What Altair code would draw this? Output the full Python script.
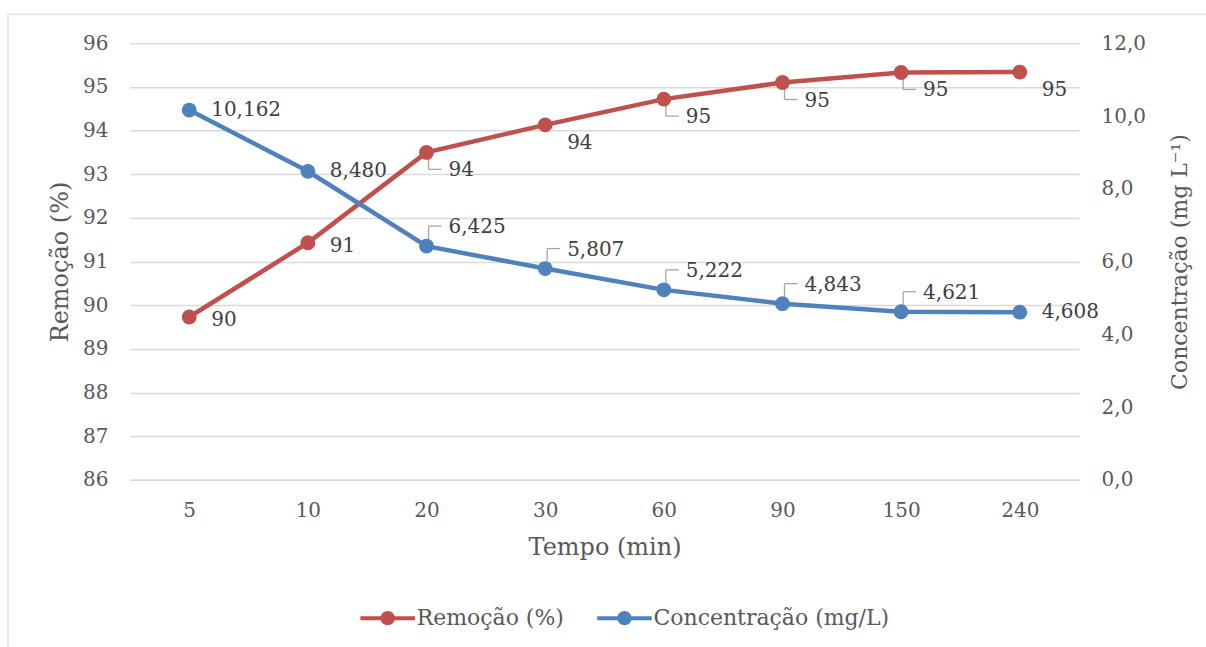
import altair as alt
import pandas as pd

# Sampling times (min) and measured series
tempo = ["5", "10", "20", "30", "60", "90", "150", "240"]
remocao = [89.73, 91.43, 93.50, 94.13, 94.72, 95.10, 95.33, 95.34]
concentracao = [10.162, 8.480, 6.425, 5.807, 5.222, 4.843, 4.621, 4.608]

SERIE_REM = "Remoção (%)"
SERIE_CONC = "Concentração (mg/L)"

RED = "#c0504d"
BLUE = "#4f81bd"
FONT = "DejaVu Serif"
TXT = "#595959"
LBL = "#404040"
GRID = "#d9d9d9"
LEADER = "#a6a6a6"
FS = 20

df = pd.DataFrame({"tempo": tempo, "remocao": remocao, "conc": concentracao})
base = alt.Chart(df).transform_calculate(
    lbl_rem="format(datum.remocao, '.0f')",
    lbl_conc="replace(format(datum.conc, '.3f'), '.', ',')",
)

x = alt.X(
    "tempo:N",
    sort=tempo,
    scale=alt.Scale(type="point", padding=0.5),
    axis=alt.Axis(
        title="Tempo (min)", labelAngle=0, ticks=False, domain=True,
        domainColor=GRID, domainWidth=1.5, labelPadding=21, titlePadding=15,
    ),
)

y_rem = alt.Y(
    "remocao:Q",
    scale=alt.Scale(domain=[86, 96], nice=False, zero=False),
    axis=alt.Axis(
        title="Remoção (%)", values=list(range(86, 97)), grid=True,
        gridColor=GRID, gridWidth=1.5, ticks=False, domain=False,
        labelPadding=22, titlePadding=10, format="d",
    ),
)

y_conc = alt.Y(
    "conc:Q",
    scale=alt.Scale(domain=[0, 12], nice=False),
    axis=alt.Axis(
        title="Concentração (mg L⁻¹)", orient="right",
        values=[0, 2, 4, 6, 8, 10, 12], grid=False, ticks=False, domain=False,
        labelPadding=22, titlePadding=24, titleAngle=270, titleBaseline="top",
        titleFontSize=22,
        labelExpr="replace(format(datum.value, '.1f'), '.', ',')",
    ),
)

# legend glyph: short line with a filled dot (concentric strokes fill the dot)
legend_symbol = (
    "M-3.9,0 L3.9,0 "
    "M0.75,0 A0.75,0.75 0 1,1 -0.75,0 A0.75,0.75 0 1,1 0.75,0 "
    "M0.25,0 A0.25,0.25 0 1,1 -0.25,0 A0.25,0.25 0 1,1 0.25,0"
)
color_scale = alt.Scale(domain=[SERIE_REM, SERIE_CONC], range=[RED, BLUE])
legend = alt.Legend(
    title=None, orient="none", direction="horizontal",
    legendX=247, legendY=564,
    symbolType=legend_symbol, symbolSize=196, symbolStrokeWidth=4,
    labelOffset=18, columnPadding=24, labelLimit=400,
    labelFont=FONT, labelFontSize=22, labelColor=TXT,
)


def subset(chart, keys):
    return chart.transform_filter(alt.FieldOneOfPredicate(field="tempo", oneOf=keys))


# ---- Remoção (left axis) ----
rem_line = base.transform_calculate(serie=f"'{SERIE_REM}'").mark_line(
    strokeWidth=4.5
).encode(
    x=x, y=y_rem,
    color=alt.Color("serie:N", scale=color_scale, legend=legend),
)
rem_pts = base.mark_point(filled=True, size=220, opacity=1, color=RED).encode(x=x, y=y_rem)
rem_text_kw = dict(align="left", baseline="middle", font=FONT, fontSize=FS, color=LBL, dx=22)
rem_lbl_a = subset(base, ["5", "10"]).mark_text(dy=3, **rem_text_kw).encode(
    x=x, y=y_rem, text="lbl_rem:N")
rem_lbl_b = subset(base, ["20", "30", "60", "90", "150", "240"]).mark_text(
    dy=18, **rem_text_kw).encode(x=x, y=y_rem, text="lbl_rem:N")
rem_leads = ["20", "60", "90", "150"]
rem_lead_v = subset(base, rem_leads).mark_rule(
    color=LEADER, strokeWidth=1.3, xOffset=2, yOffset=6, y2Offset=17
).encode(x=x, y=y_rem, y2="remocao:Q")
rem_lead_h = subset(base, rem_leads).mark_rule(
    color=LEADER, strokeWidth=1.3, xOffset=2, x2Offset=15, yOffset=17
).encode(x=x, x2="tempo:N", y=y_rem)

frame = alt.Chart(pd.DataFrame({"k": [0]})).mark_rect(
    fill=None, stroke=GRID, strokeWidth=1.2
).encode(x=alt.value(-122), x2=alt.value(1300), y=alt.value(-29), y2=alt.value(700))

left = alt.layer(frame, rem_line, rem_lead_v, rem_lead_h, rem_pts, rem_lbl_a, rem_lbl_b)

# ---- Concentração (right axis) ----
conc_line = base.transform_calculate(serie=f"'{SERIE_CONC}'").mark_line(
    strokeWidth=4.5
).encode(
    x=x, y=y_conc,
    color=alt.Color("serie:N", scale=color_scale, legend=legend),
)
conc_pts = base.mark_point(filled=True, size=220, opacity=1, color=BLUE).encode(x=x, y=y_conc)
conc_text_kw = dict(align="left", baseline="middle", font=FONT, fontSize=FS, color=LBL, dx=22)
conc_lbl_a = subset(base, ["5", "10", "240"]).mark_text(dy=0, **conc_text_kw).encode(
    x=x, y=y_conc, text="lbl_conc:N")
conc_leads = ["20", "30", "60", "90", "150"]
conc_lbl_b = subset(base, conc_leads).mark_text(dy=-19, **conc_text_kw).encode(
    x=x, y=y_conc, text="lbl_conc:N")
conc_lead_v = subset(base, conc_leads).mark_rule(
    color=LEADER, strokeWidth=1.3, xOffset=2, yOffset=-7, y2Offset=-20
).encode(x=x, y=y_conc, y2="conc:Q")
conc_lead_h = subset(base, conc_leads).mark_rule(
    color=LEADER, strokeWidth=1.3, xOffset=2, x2Offset=15, yOffset=-20
).encode(x=x, x2="tempo:N", y=y_conc)

right = alt.layer(conc_line, conc_lead_v, conc_lead_h, conc_pts, conc_lbl_a, conc_lbl_b)

chart = (
    alt.layer(left, right)
    .resolve_scale(y="independent")
    .properties(
        width=950, height=437,
        padding={"left": 130, "top": 43, "right": 127, "bottom": 167},
        autosize=alt.AutoSizeParams(type="none"),
        background="white",
    )
    .configure_view(stroke=None)
    .configure_axis(
        labelFont=FONT, titleFont=FONT, labelFontSize=FS, titleFontSize=24,
        labelColor=TXT, titleColor=TXT, titleFontWeight="normal",
    )
)

chart.save("out.html", embed_options={"renderer": "svg", "actions": False})
